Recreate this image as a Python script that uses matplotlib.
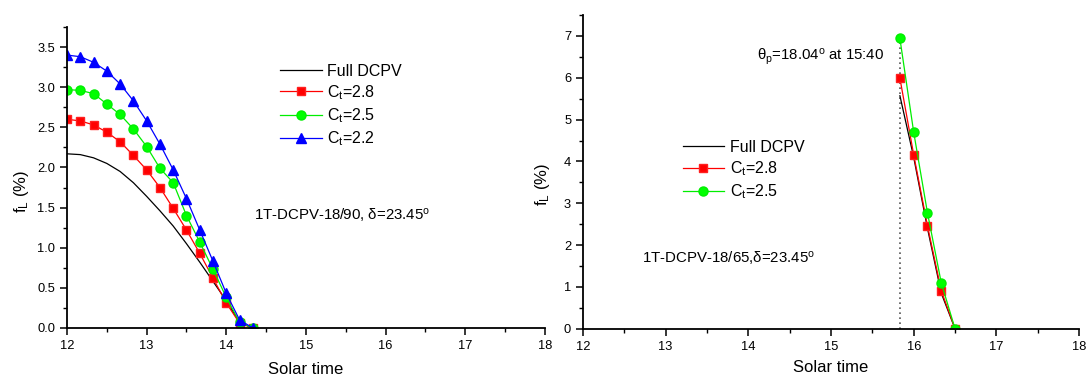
import matplotlib
matplotlib.use("Agg")
import matplotlib.pyplot as plt
from matplotlib.ticker import MultipleLocator

plt.rcParams['font.family'] = ['Liberation Sans', 'DejaVu Sans']
plt.rcParams['mathtext.fontset'] = 'custom'
plt.rcParams['mathtext.rm'] = 'Liberation Sans'
plt.rcParams['mathtext.it'] = 'Liberation Sans:italic'

# ---- Left panel data (1T-DCPV-18/90) ----
t_left = [12.0, 12.1667, 12.3333, 12.5, 12.6667, 12.8333, 13.0, 13.1667,
          13.3333, 13.5, 13.6667, 13.8333, 14.0, 14.1667, 14.3333]
full_left = [2.17, 2.16, 2.12, 2.05, 1.95, 1.81, 1.64, 1.46, 1.27, 1.05, 0.82, 0.58, 0.34, 0.07, 0.0]
ct28_left = [2.60, 2.58, 2.53, 2.44, 2.32, 2.15, 1.97, 1.75, 1.49, 1.22, 0.93, 0.62, 0.31, 0.06, 0.0]
ct25_left = [2.97, 2.96, 2.92, 2.79, 2.66, 2.48, 2.26, 1.99, 1.81, 1.40, 1.07, 0.73, 0.38, 0.07, 0.0]
ct22_left = [3.40, 3.38, 3.31, 3.20, 3.04, 2.83, 2.58, 2.29, 1.97, 1.61, 1.22, 0.83, 0.43, 0.10, 0.0]

# ---- Right panel data (1T-DCPV-18/65) ----
t_right = [15.8333, 16.0, 16.1667, 16.3333, 16.5]
full_right = [5.57, 4.10, 2.40, 0.85, 0.0]
ct28_right = [5.99, 4.16, 2.46, 0.91, 0.0]
ct25_right = [6.94, 4.70, 2.77, 1.10, 0.0]
t_peak = 15.8333

fig = plt.figure(figsize=(10.86, 3.76), dpi=100)
axL = fig.add_axes([0.0617, 0.1277, 0.4401, 0.8005])
axR = fig.add_axes([0.5368, 0.1258, 0.4568, 0.8342])

def style(ax, pad):
    for s in ['top', 'right']:
        ax.spines[s].set_visible(False)
    for s in ['left', 'bottom']:
        ax.spines[s].set_linewidth(1.3)
    ax.tick_params(which='major', direction='out', length=5, width=1.1, labelsize=9.3)
    ax.tick_params(which='minor', direction='out', length=3, width=1.0)
    ax.set_xlim(12, 18)
    ax.xaxis.set_major_locator(MultipleLocator(1))
    ax.xaxis.set_minor_locator(MultipleLocator(0.5))
    ax.set_xlabel('Solar time', fontsize=12, labelpad=pad)

# Left
axL.plot(t_left, full_left, color='black', lw=0.9, label='Full DCPV')
axL.plot(t_left, ct28_left, color='#ff0000', lw=0.9, marker='s', ms=6, mec='#ff2020', label=r'C$_\mathrm{t}$=2.8')
axL.plot(t_left, ct25_left, color='#00ee00', lw=0.9, marker='o', ms=6.5, mfc='#00ff00', mec='#00ee00', label=r'C$_\mathrm{t}$=2.5')
axL.plot(t_left, ct22_left, color='#0000ff', lw=0.9, marker='^', ms=7.5, label=r'C$_\mathrm{t}$=2.2')
style(axL, 7)
axL.set_ylim(0, 3.75)
axL.yaxis.set_major_locator(MultipleLocator(0.5))
axL.yaxis.set_minor_locator(MultipleLocator(0.25))
axL.yaxis.set_major_formatter(matplotlib.ticker.FormatStrFormatter('%.1f'))
axL.set_ylabel(r'f$_\mathrm{L}$ (%)', fontsize=12)
axL.yaxis.set_label_coords(-0.075, 0.455)
axL.legend(loc='upper left', bbox_to_anchor=(0.429, 0.905), frameon=False, fontsize=11.5,
           handlelength=2.6, handletextpad=0.35, labelspacing=0.28, borderpad=0)
axL.text(14.35, 1.41, r'1T-DCPV-18/90, $\mathrm{\delta}$=23.45$^\mathrm{o}$', fontsize=10.8, va='center')

# Right
axR.plot([t_peak, t_peak], [0, 7.0], color='#555555', lw=1.2, ls=(0, (1, 2)))
axR.plot(t_right, full_right, color='black', lw=0.9, label='Full DCPV')
axR.plot(t_right, ct28_right, color='#ff0000', lw=0.9, marker='s', ms=6, mec='#ff2020', label=r'C$_\mathrm{t}$=2.8')
axR.plot(t_right, ct25_right, color='#00ee00', lw=0.9, marker='o', ms=6.5, mfc='#00ff00', mec='#00ee00', label=r'C$_\mathrm{t}$=2.5')
style(axR, 5.5)
axR.set_ylim(0, 7.5)
axR.yaxis.set_major_locator(MultipleLocator(1))
axR.yaxis.set_minor_locator(MultipleLocator(0.5))
axR.set_ylabel(r'f$_\mathrm{L}$ (%)', fontsize=12)
axR.yaxis.set_label_coords(-0.063, 0.46)
axR.legend(loc='upper left', bbox_to_anchor=(0.185, 0.627), frameon=False, fontsize=11.5,
           handlelength=2.6, handletextpad=0.35, labelspacing=0.28, borderpad=0)
axR.text(12.71, 1.7, r'1T-DCPV-18/65,$\mathrm{\delta}$=23.45$^\mathrm{o}$', fontsize=10.8, va='center')
axR.text(14.1, 6.5, r'$\mathrm{\theta_p}$=18.04$^\mathrm{o}$ at 15:40', fontsize=10.8, va='center')

fig.savefig('out.png', dpi=100)
